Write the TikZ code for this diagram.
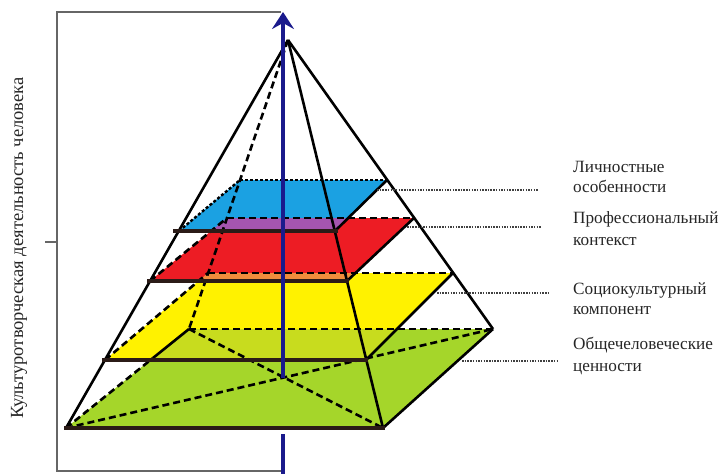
\documentclass[tikz,border=0pt]{standalone}
\usepackage{fontspec}
\setmainfont{Liberation Serif}
\usetikzlibrary{arrows.meta}
\definecolor{cblue}{HTML}{1BA1E2}
\definecolor{cred}{HTML}{ED1C24}
\definecolor{cyellow}{HTML}{FFF200}
\definecolor{cgreen}{HTML}{A5D62A}
\definecolor{cpurple}{HTML}{A555AF}
\definecolor{corange}{HTML}{F08C3C}
\definecolor{cyg}{HTML}{C8DC1E}
\definecolor{cnavy}{HTML}{1A1A8C}
\definecolor{cfront}{HTML}{2B1B17}
\begin{document}
\begin{tikzpicture}[x=1pt,y=-1pt,
  edge/.style={line width=2.6pt,black},
  hidden/.style={line width=2.6pt,black,dash pattern=on 7pt off 4pt},
  fine/.style={line width=2.4pt,black,dash pattern=on 3pt off 2pt},
  frontedge/.style={line width=4pt,cfront},
  frame/.style={line width=1.4pt,black!60},
  leader/.style={line width=1.5pt,black!75,dash pattern=on 1.5pt off 1.2pt},
  lbl/.style={anchor=base west,inner sep=0pt,text=black!85,font=\fontsize{17.2}{20}\selectfont},
  axisline/.style={line width=4pt,cnavy}]
\useasboundingbox (0,0) rectangle (721,474);
% apex and base
\coordinate (A) at (288,40);
\coordinate (gFL) at (66,428);
\coordinate (gFR) at (383,428);
\coordinate (gBR) at (493,329);
\coordinate (gBL) at (189,329);
\coordinate (gP) at (153,358);
\coordinate (gC) at (283,378);
% yellow layer
\coordinate (yFL) at (105,360);
\coordinate (yFR) at (366,360);
\coordinate (yBR) at (453,273);
\coordinate (yBL) at (208,273);
% red layer
\coordinate (rFL) at (150,281);
\coordinate (rFR) at (347,281);
\coordinate (rBR) at (414,218);
\coordinate (rBL) at (227,218);
% blue layer
\coordinate (bFL) at (179,231);
\coordinate (bFR) at (335,231);
\coordinate (bBR) at (387,180);
\coordinate (bBL) at (240,180);
% fills
\fill[cgreen] (gFL)--(gFR)--(gBR)--(gBL)--cycle;
\fill[cyellow] (yFL)--(yFR)--(yBR)--(yBL)--cycle;
\fill[cred] (rFL)--(rFR)--(rBR)--(rBL)--cycle;
\fill[cblue] (bFL)--(bFR)--(bBR)--(bBL)--cycle;
\begin{scope}
  \clip (gFL)--(gFR)--(gBR)--(gBL)--cycle;
  \fill[cyg] (yFL)--(yFR)--(yBR)--(yBL)--cycle;
\end{scope}
\begin{scope}
  \clip (yFL)--(yFR)--(yBR)--(yBL)--cycle;
  \fill[corange] (rFL)--(rFR)--(rBR)--(rBL)--cycle;
\end{scope}
\begin{scope}
  \clip (rFL)--(rFR)--(rBR)--(rBL)--cycle;
  \fill[cpurple] (bFL)--(bFR)--(bBR)--(bBL)--cycle;
\end{scope}
% frame
\coordinate (fT) at (281,12);
\coordinate (fTL) at (57,12);
\coordinate (fBL) at (57,471);
\coordinate (fB) at (281,471);
\coordinate (tk1) at (45,242);
\coordinate (tk2) at (57,242);
\draw[frame] (fT) -- (fTL) -- (fBL) -- (fB);
\draw[frame] (tk1) -- (tk2);
% base edges
\draw[hidden] (gBL) -- (gBR);
\draw[hidden] (gFL) -- (gP);
\draw[edge] (gP) -- (gBL);
\draw[edge] (gFR) -- (gBR);
\draw[hidden] (gFL) -- (gBR);
\draw[hidden] (gBL) -- (gFR);
% yellow edges
\draw[hidden] (yBL) -- (yBR);
\draw[hidden] (yFL) -- (yBL);
\draw[edge] (yFR) -- (yBR);
% red edges
\draw[hidden] (rBL) -- (rBR);
\draw[hidden] (rFL) -- (rBL);
\draw[edge] (rFR) -- (rBR);
% blue edges
\draw[fine] (bBL) -- (bBR);
\draw[fine] (bFL) -- (bBL);
\draw[edge] (bFR) -- (bBR);
% pyramid edges
\draw[edge] (A) -- (gFL);
\draw[edge] (A) -- (gFR);
\draw[edge] (A) -- (gBR);
\draw[hidden] (A) -- (gBL);
% front edges
\coordinate (bF1) at (173,231); \coordinate (bF2) at (338,231);
\coordinate (rF1) at (147,281); \coordinate (rF2) at (349,281);
\coordinate (yF1) at (102,360); \coordinate (yF2) at (368,360);
\coordinate (gF1) at (64,428);  \coordinate (gF2) at (385,428);
\draw[frontedge] (bF1) -- (bF2);
\draw[frontedge] (rF1) -- (rF2);
\draw[frontedge] (yF1) -- (yF2);
\draw[frontedge] (gF1) -- (gF2);
% axis
\coordinate (axTop) at (283,12);
\coordinate (axB1) at (283,434);
\coordinate (axB2) at (283,474);
\draw[axisline,-{Stealth[length=17pt,width=22pt,inset=6pt]}] (gC) -- (axTop);
\draw[axisline] (axB1) -- (axB2);
% leaders
\coordinate (ld1a) at (377,190); \coordinate (ld1b) at (538,190);
\coordinate (ld2a) at (407,227); \coordinate (ld2b) at (542,227);
\coordinate (ld3a) at (437,293); \coordinate (ld3b) at (548,293);
\coordinate (ld4a) at (462,361); \coordinate (ld4b) at (557,361);
\draw[leader] (ld1a) -- (ld1b);
\draw[leader] (ld2a) -- (ld2b);
\draw[leader] (ld3a) -- (ld3b);
\draw[leader] (ld4a) -- (ld4b);
% labels
\node[lbl] (l1a) at (573,172) {Личностные};
\node[lbl] (l1b) at (573,192) {особенности};
\node[lbl] (l2a) at (573,223) {Профессиональный};
\node[lbl] (l2b) at (573,245) {контекст};
\node[lbl] (l3a) at (573,294) {Социокультурный};
\node[lbl] (l3b) at (573,314) {компонент};
\node[lbl] (l4a) at (573,349) {Общечеловеческие};
\node[lbl] (l4b) at (573,371) {ценности};
\node[rotate=90,inner sep=0pt,text=black!85,font=\fontsize{18.5}{22}\selectfont] (vt) at (19,248) {Культуротворческая деятельность человека};
\end{tikzpicture}
\end{document}
